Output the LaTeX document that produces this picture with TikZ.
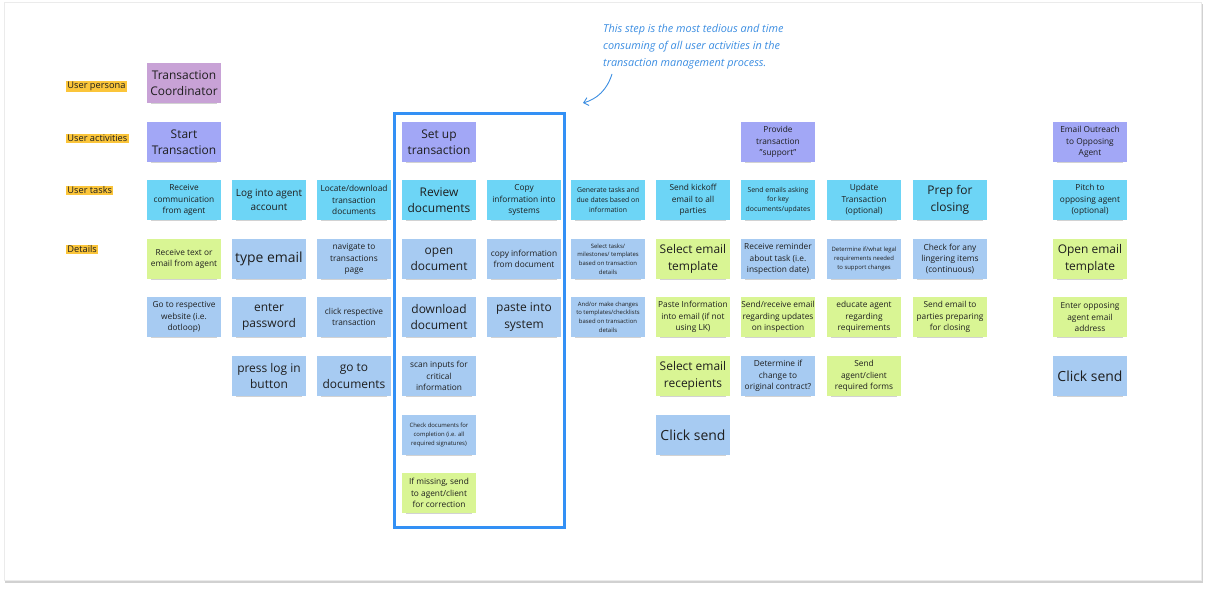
\documentclass[tikz,border=0pt]{standalone}
\usepackage{fontspec}
\setmainfont{Open Sans}
\usetikzlibrary{shadows,arrows.meta}
\definecolor{persona}{HTML}{C8A2D6}
\definecolor{activity}{HTML}{A2A7F6}
\definecolor{task}{HTML}{6DD5F6}
\definecolor{detail}{HTML}{A7CBF2}
\definecolor{green}{HTML}{D9F594}
\definecolor{labelbg}{HTML}{FBC53A}
\definecolor{focus}{HTML}{3390F5}
\definecolor{annot}{HTML}{3C8EE2}
\definecolor{inkc}{HTML}{1E1E1E}
\newcommand\szXL{\fontsize{14}{18}\selectfont}
\newcommand\szL{\fontsize{12}{16.4}\selectfont}
\newcommand\szLM{\fontsize{10}{13.3}\selectfont}
\newcommand\szM{\fontsize{8.35}{11.3}\selectfont}
\newcommand\szS{\fontsize{6.9}{9.7}\selectfont}
\newcommand\szXS{\fontsize{5.95}{8.6}\selectfont}
\tikzset{
  sticky/.style={minimum width=74bp, minimum height=40bp, inner sep=0pt, align=center,
    text=inkc, drop shadow={shadow xshift=0bp, shadow yshift=-3.5bp, shadow scale=0.9, opacity=0.35}},
  rowlabel/.style={anchor=west, fill=labelbg, inner sep=1.2bp, text=inkc, font=\fontsize{9.3}{11}\selectfont},
}
\begin{document}
\begin{tikzpicture}[x=1bp,y=-1bp]
\useasboundingbox (0,0) rectangle (1207,589);
\fill[white] (0,0) rectangle (1207,589);
\fill[black!18] (5,4) rectangle (1203,583);
\fill[white,draw=black!8] (4,2) rectangle (1201,580);
% row labels
\node[rowlabel] (lp) at (66,86.5) {User persona};
\node[rowlabel] (la) at (66,138.5) {User activities};
\node[rowlabel] (lt) at (66,190.5) {User tasks};
\node[rowlabel] (ld) at (66,249.5) {Details};
% row 0
\node[sticky,fill=persona,font=\szL] (p1) at (184,83) {Transaction\\Coordinator};
% row 1
\node[sticky,fill=activity,font=\szL] (a1) at (184,142) {Start\\Transaction};
\node[sticky,fill=activity,font=\szL] (a4) at (439,142) {Set up\\transaction};
\node[sticky,fill=activity,font=\szM] (a8) at (778,142) {Provide\\transaction\\"support"};
\node[sticky,fill=activity,font=\szM] (a11) at (1090,142) {Email Outreach\\to Opposing\\Agent};
% row 2
\node[sticky,fill=task,font=\szM] (t1) at (184,200) {Receive\\communication\\from agent};
\node[sticky,fill=task,font=\szLM] (t2) at (269,200) {Log into agent\\account};
\node[sticky,fill=task,font=\szM] (t3) at (354,200) {Locate/download\\transaction\\documents};
\node[sticky,fill=task,font=\szL] (t4) at (439,200) {Review\\documents};
\node[sticky,fill=task,font=\szM] (t5) at (524,200) {Copy\\information into\\systems};
\node[sticky,fill=task,font=\szS] (t6) at (608,200) {Generate tasks and\\due dates based on\\information};
\node[sticky,fill=task,font=\szM] (t7) at (693,200) {Send kickoff\\email to all\\parties};
\node[sticky,fill=task,font=\szS] (t8) at (778,200) {Send emails asking\\for key\\documents/updates};
\node[sticky,fill=task,font=\szM] (t9) at (864,200) {Update\\Transaction\\(optional)};
\node[sticky,fill=task,font=\szL] (t10) at (950,200) {Prep for\\closing};
\node[sticky,fill=task,font=\szM] (t11) at (1090,200) {Pitch to\\opposing agent\\(optional)};
% row 3
\node[sticky,fill=green,font=\szM] (d31) at (184,259) {Receive text or\\email from agent};
\node[sticky,fill=detail,font=\szXL] (d32) at (269,259) {type email};
\node[sticky,fill=detail,font=\szM] (d33) at (354,259) {navigate to\\transactions\\page};
\node[sticky,fill=detail,font=\szL] (d34) at (439,259) {open\\document};
\node[sticky,fill=detail,font=\szM] (d35) at (524,259) {copy information\\from document};
\node[sticky,fill=detail,font=\szXS] (d36) at (608,259) {Select tasks/\\milestones/ templates\\based on transaction\\details};
\node[sticky,fill=green,font=\szL] (d37) at (693,259) {Select email\\template};
\node[sticky,fill=detail,font=\szM] (d38) at (778,259) {Receive reminder\\about task (i.e.\\inspection date)};
\node[sticky,fill=detail,font=\szXS] (d39) at (864,259) {Determine if/what legal\\requirements needed\\to support changes};
\node[sticky,fill=detail,font=\szM] (d310) at (950,259) {Check for any\\lingering items\\(continuous)};
\node[sticky,fill=green,font=\szL] (d311) at (1090,259) {Open email\\template};
% row 4
\node[sticky,fill=detail,font=\szM] (d41) at (184,317) {Go to respective\\website (i.e.\\dotloop)};
\node[sticky,fill=detail,font=\szL] (d42) at (269,317) {enter\\password};
\node[sticky,fill=detail,font=\szM] (d43) at (354,317) {click respective\\transaction};
\node[sticky,fill=detail,font=\szL] (d44) at (439,317) {download\\document};
\node[sticky,fill=detail,font=\szL] (d45) at (524,317) {paste into\\system};
\node[sticky,fill=detail,font=\szXS] (d46) at (608,317) {And/or make changes\\to templates/checklists\\based on transaction\\details};
\node[sticky,fill=green,font=\szM] (d47) at (693,317) {Paste Information\\into email (if not\\using LK)};
\node[sticky,fill=green,font=\szM] (d48) at (778,317) {Send/receive email\\regarding updates\\on inspection};
\node[sticky,fill=green,font=\szM] (d49) at (864,317) {educate agent\\regarding\\requirements};
\node[sticky,fill=green,font=\szM] (d410) at (950,317) {Send email to\\parties preparing\\for closing};
\node[sticky,fill=green,font=\szM] (d411) at (1090,317) {Enter opposing\\agent email\\address};
% row 5
\node[sticky,fill=detail,font=\szL] (d52) at (269,376) {press log in\\button};
\node[sticky,fill=detail,font=\szL] (d53) at (354,376) {go to\\documents};
\node[sticky,fill=detail,font=\szM] (d54) at (439,376) {scan inputs for\\critical\\information};
\node[sticky,fill=green,font=\szL] (d57) at (693,376) {Select email\\recepients};
\node[sticky,fill=detail,font=\szM] (d58) at (778,376) {Determine if\\change to\\original contract?};
\node[sticky,fill=green,font=\szM] (d59) at (864,376) {Send\\agent/client\\required forms};
\node[sticky,fill=detail,font=\szXL] (d511) at (1090,376) {Click send};
% row 6
\node[sticky,fill=detail,font=\szXS] (d64) at (439,435) {Check documents for\\completion (i.e. all\\required signatures)};
\node[sticky,fill=detail,font=\szXL] (d67) at (693,435) {Click send};
% row 7
\node[sticky,fill=green,font=\szM] (d74) at (439,493) {If missing, send\\to agent/client\\for correction};
% focus frame
\node[draw=focus, line width=3bp, minimum width=170bp, minimum height=414bp, inner sep=0pt] (frame) at (479.5,320.5) {};
% annotation
\node[anchor=north west, align=left, text=annot, inner sep=0pt,
  font=\itshape\fontsize{10.9}{17}\selectfont] (note) at (603,24)
  {This step is the most tedious and time\\consuming of all user activities in the\\transaction management process.};
\coordinate (arrs) at (612,74);
\coordinate (arre) at (583,103);
\draw[annot, line width=0.9bp, -{Straight Barb[length=4.5bp,width=8bp]}] (arrs) .. controls (607,90) and (597,99) .. (arre);
\end{tikzpicture}
\end{document}
